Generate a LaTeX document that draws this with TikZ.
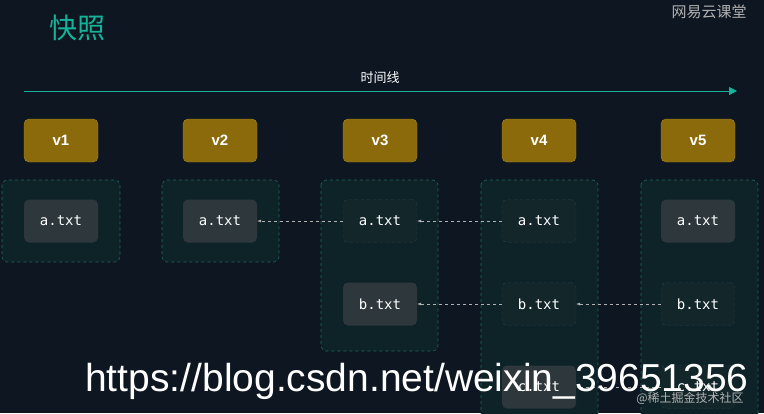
\documentclass[tikz,border=0pt]{standalone}
\usepackage{fontspec}
\setmainfont{Liberation Sans}
\setmonofont{DejaVu Sans Mono}
\newfontfamily\cjk{Noto Sans CJK SC}
\usetikzlibrary{arrows.meta}
\definecolor{bg}{HTML}{0D1621}
\definecolor{teal}{HTML}{14B39A}
\definecolor{gold}{HTML}{8B6A0C}
\definecolor{goldb}{HTML}{A8861E}
\definecolor{cont}{HTML}{0E2328}
\definecolor{contb}{HTML}{1E6A5E}
\definecolor{filef}{HTML}{2E373C}
\definecolor{filed}{HTML}{13272B}
\definecolor{filedb}{HTML}{234046}
\begin{document}
\begin{tikzpicture}[x=1pt,y=-1pt,
  ver/.style={draw=goldb,fill=gold,rounded corners=5pt,minimum width=74pt,minimum height=43pt,text=white,font=\bfseries\fontsize{15}{15}\selectfont},
  contbox/.style={draw=contb,fill=cont,dashed,rounded corners=5pt,line width=0.6pt},
  filesolid/.style={fill=filef,rounded corners=5pt,minimum width=74pt,minimum height=43pt,text=white,font=\ttfamily\fontsize{14}{14}\selectfont},
  filedash/.style={draw=filedb,fill=filed,dashed,rounded corners=5pt,minimum width=74pt,minimum height=43pt,text=white,font=\ttfamily\fontsize{14}{14}\selectfont},
  link/.style={draw=gray!60,dashed,line width=0.5pt,-{Latex[length=4pt,width=3pt]}}]
\fill[bg] (0,0) rectangle (764,413);
\useasboundingbox (0,0) rectangle (764,413);
\node[text=teal,font=\cjk\fontsize{28}{28}\selectfont] (title) at (77,28) {快照};
\node[text=gray!60,font=\cjk\fontsize{15}{15}\selectfont,anchor=west] (wm) at (668,12) {网易云课堂};
\coordinate (t0) at (24,91); \coordinate (t1) at (737,91);
\draw[teal,line width=1pt,-{Triangle[length=8pt,width=8pt]}] (t0) -- (t1);
\node[text=white,font=\cjk\fontsize{13}{13}\selectfont] (tl) at (380,78) {时间线};
\foreach \i/\x in {1/61,2/220,3/380,4/539,5/698}{\node[ver] (v\i) at (\x,140.5) {v\i};}
\draw[contbox] (2,180) rectangle (120,262);
\draw[contbox] (162,180) rectangle (279,262);
\draw[contbox] (321,180) rectangle (438,351);
\draw[contbox] (481,180) rectangle (598,420);
\draw[contbox] (641,180) rectangle (758,420);
\node[filesolid] (a1) at (61,221) {a.txt};
\node[filesolid] (a2) at (220,221) {a.txt};
\node[filedash] (a3) at (380,221) {a.txt};
\node[filedash] (a4) at (539,221) {a.txt};
\node[filesolid] (a5) at (698,221) {a.txt};
\node[filesolid] (b3) at (380,304) {b.txt};
\node[filedash] (b4) at (539,304) {b.txt};
\node[filedash] (b5) at (698,304) {b.txt};
\node[filesolid] (c4) at (539,387) {c.txt};
\node[filedash] (c5) at (698,387) {c.txt};
\draw[link] (a3) -- (a2);
\draw[link] (a4) -- (a3);
\draw[link] (b4) -- (b3);
\draw[link] (b5) -- (b4);
\draw[link] (c5) -- (c4);
\node[text=gray!60,font=\cjk\fontsize{12}{12}\selectfont] (jj) at (690,398) {@稀土掘金技术社区};
\node[text=white,font=\fontsize{39}{39}\selectfont] (url) at (417,381) {https://blog.csdn.net/weixin\_39651356};
\end{tikzpicture}
\end{document}
